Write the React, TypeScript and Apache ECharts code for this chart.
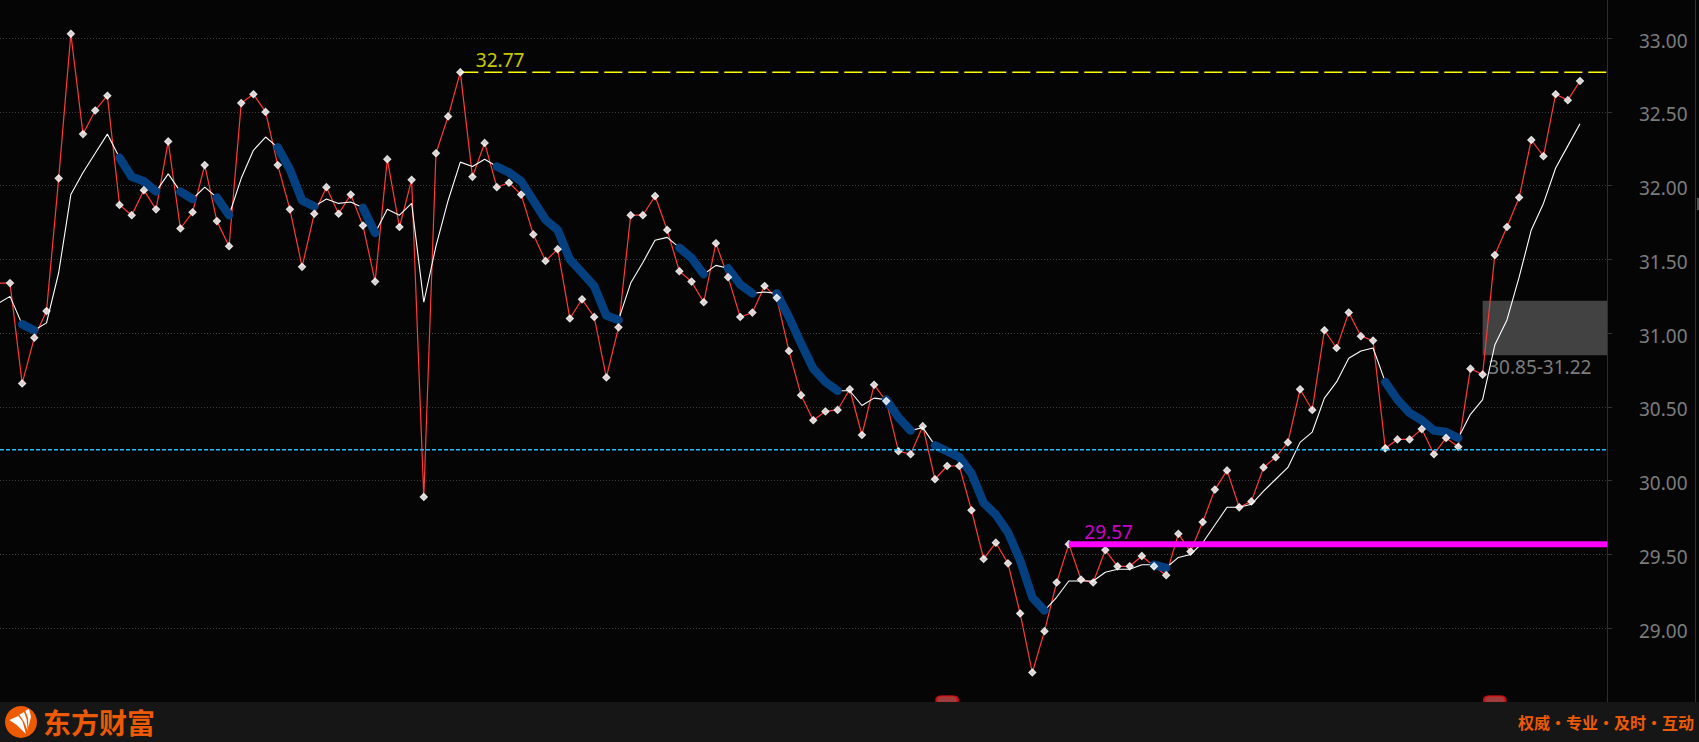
import React, { useEffect, useRef } from "react";
import * as echarts from "echarts";

// Session numbers run from -1 (just off the left edge) to 129
const firstSession = -1;
const closes = [
  31.34, 31.34, 30.66, 30.97, 31.15, 32.05, 33.03, 32.35, 32.51, 32.61, 31.87, 31.8, 31.97, 31.84, 32.3, 31.71, 31.82,
  32.14, 31.76, 31.59, 32.56, 32.62, 32.5, 32.14, 31.84, 31.45, 31.81, 31.99, 31.81, 31.94, 31.73, 31.35, 32.18, 31.72,
  32.04, 29.89, 32.22, 32.47, 32.77, 32.06, 32.29, 31.99, 32.02, 31.94, 31.67, 31.49, 31.57, 31.1, 31.23, 31.11, 30.7,
  31.04, 31.8, 31.8, 31.93, 31.7, 31.42, 31.35, 31.21, 31.61, 31.38, 31.11, 31.14, 31.32, 31.24, 30.88, 30.58, 30.41,
  30.47, 30.48, 30.62, 30.31, 30.65, 30.54, 30.2, 30.18, 30.37, 30.01, 30.1, 30.1, 29.8, 29.47, 29.58, 29.44, 29.1,
  28.7, 28.98, 29.31, 29.57, 29.33, 29.31, 29.53, 29.42, 29.42, 29.49, 29.42, 29.36, 29.64, 29.52, 29.72, 29.94, 30.07,
  29.82, 29.86, 30.09, 30.16, 30.26, 30.62, 30.48, 31.02, 30.9, 31.14, 30.98, 30.95, 30.22, 30.28, 30.28, 30.35, 30.18,
  30.29, 30.23, 30.76, 30.72, 31.53, 31.72, 31.92, 32.31, 32.2, 32.62, 32.58, 32.71,
];
const movingAverage = [
  31.2, 31.25, 31.06, 31.02, 31.07, 31.41, 31.94, 32.09, 32.22, 32.35, 32.19, 32.06, 32.03, 31.96, 32.08, 31.96, 31.91,
  31.99, 31.92, 31.8, 32.05, 32.24, 32.33, 32.26, 32.11, 31.9, 31.86, 31.91, 31.88, 31.89, 31.85, 31.68, 31.84, 31.8,
  31.88, 31.21, 31.59, 31.9, 32.16, 32.13, 32.18, 32.13, 32.09, 32.03, 31.9, 31.77, 31.7, 31.5, 31.41, 31.32, 31.12,
  31.09, 31.34, 31.48, 31.63, 31.65, 31.58, 31.51, 31.4, 31.46, 31.44, 31.33, 31.27, 31.28, 31.27, 31.11, 30.93, 30.76,
  30.67, 30.61, 30.61, 30.51, 30.56, 30.55, 30.43, 30.34, 30.36, 30.24, 30.2, 30.16, 30.05, 29.85, 29.77, 29.65, 29.46,
  29.21, 29.12, 29.21, 29.32, 29.32, 29.32, 29.38, 29.4, 29.4, 29.43, 29.43, 29.41, 29.48, 29.5, 29.58, 29.7, 29.82,
  29.82, 29.84, 29.93, 30.01, 30.09, 30.26, 30.33, 30.56, 30.67, 30.83, 30.88, 30.9, 30.67, 30.55, 30.46, 30.41, 30.34,
  30.33, 30.29, 30.45, 30.55, 30.92, 31.09, 31.38, 31.7, 31.88, 32.12, 32.27, 32.42,
];
// Stretches where the moving average falls (drawn thick and blue)
const fallingRuns = [
  [1, 2], [9, 12], [14, 15], [17, 18], [22, 25], [29, 30], [40, 50], [55, 57], [59, 61], [63, 68], [72, 74], [76, 85],
  [94, 95], [113, 119],
];
const yTicks = [29, 29.5, 30, 30.5, 31, 31.5, 32, 32.5, 33];
const highSession = 37;
const highLevel = 32.77;
const lowSession = 87;
const supportLevel = 29.57;
const referenceLevel = 30.21;
const zoneSession = 121;
const zoneLow = 30.85;
const zoneHigh = 31.22;
const eventSessions = [77, 122];

const xMin = -0.8217;
const xMax = 131.22;
const yMin = 28.5;
const yMax = 33.259;

const points = (values: number[]) => values.map((v, k) => [k + firstSession, v]);
const isFalling = (s: number) => fallingRuns.some(([a, b]) => s >= a && s <= b);

function logoBlade(pts: number[][]) {
  return {
    type: "polygon",
    shape: { points: pts.map(([x, y]) => [x / 3, 680 + y / 3]) },
    style: { fill: "#fff" },
    z: 22,
  };
}

export default function App() {
  const ref = useRef<HTMLDivElement>(null);

  useEffect(() => {
    document.body.style.margin = "0";
    document.body.style.background = "#050505";
    const chart = echarts.init(ref.current!, undefined, { renderer: "svg" });
    const labelFont = { fontFamily: "Noto Sans", fontSize: 19 };
    chart.setOption({
      animation: false,
      backgroundColor: "#050505",
      grid: { left: 0, top: 0, width: 1607, height: 702, containLabel: false },
      xAxis: { type: "value", min: xMin, max: xMax, show: false },
      yAxis: {
        type: "value",
        position: "right",
        min: yMin,
        max: yMax,
        interval: 0.5,
        axisLine: { show: true, onZero: false, lineStyle: { color: "#2e2e2e", width: 1 } },
        axisTick: { show: true, length: 5, customValues: yTicks, lineStyle: { color: "#333" } },
        axisLabel: {
          ...labelFont,
          color: "#7c7c7c",
          margin: 32,
          align: "left",
          verticalAlign: "top",
          lineHeight: 5,
          customValues: yTicks,
          formatter: (v: number) => v.toFixed(2),
        },
        splitLine: { show: true, lineStyle: { color: "#3d3d3d", type: [1, 2], width: 1 } },
      },
      series: [
        {
          name: "区间",
          type: "line",
          data: [],
          z: 1,
          markArea: {
            silent: true,
            itemStyle: { color: "#464646", opacity: 0.95 },
            label: {
              show: true,
              position: "bottom",
              distance: 2,
              offset: [-5, 0],
              formatter: `${zoneLow.toFixed(2)}-${zoneHigh.toFixed(2)}`,
              color: "#7c7c7c",
              ...labelFont,
            },
            data: [[{ coord: [zoneSession, zoneHigh] }, { coord: [xMax, zoneLow] }]],
          },
        },
        {
          name: "收盘",
          type: "line",
          data: points(closes),
          symbol: "none",
          clip: true,
          z: 3,
          lineStyle: { color: "#ff3a3a", width: 1.2 },
        },
        {
          name: "均线",
          type: "line",
          data: points(movingAverage),
          symbol: "none",
          clip: true,
          z: 4,
          lineStyle: { color: "#ffffff", width: 1.1 },
        },
        {
          name: "高点",
          type: "line",
          data: [[highSession, highLevel], [xMax, highLevel]],
          symbol: "none",
          z: 5,
          lineStyle: { color: "#ffff00", width: 1.5, type: [18, 6] },
        },
        {
          name: "下跌均线",
          type: "line",
          data: movingAverage.map((v, k) => {
            const s = k + firstSession;
            return [s, isFalling(s) ? v : null];
          }),
          connectNulls: false,
          symbol: "none",
          z: 6,
          lineStyle: { color: "#04407f", width: 8.5, cap: "round", join: "round" },
        },
        {
          name: "收盘点",
          type: "scatter",
          data: points(closes).slice(1),
          symbol: "diamond",
          symbolSize: 7,
          z: 7,
          silent: true,
          itemStyle: { color: "#ffffff", borderColor: "#ffffff", borderWidth: 1.2 },
        },
        {
          name: "参考线",
          type: "line",
          data: [[xMin, referenceLevel], [xMax, referenceLevel]],
          symbol: "none",
          z: 8,
          lineStyle: { color: "#22c0ff", width: 1.3, type: [4, 2] },
        },
        {
          name: "支撑线",
          type: "line",
          data: [[lowSession, supportLevel], [xMax, supportLevel]],
          symbol: "none",
          z: 9,
          lineStyle: { color: "#ff00ff", width: 6 },
        },
        {
          name: "标注",
          type: "scatter",
          symbolSize: 1,
          z: 10,
          silent: true,
          itemStyle: { color: "transparent" },
          data: [
            {
              value: [highSession, highLevel],
              label: {
                show: true,
                position: [16, -21],
                formatter: highLevel.toFixed(2),
                color: "#ffff00",
                ...labelFont,
              },
            },
            {
              value: [lowSession, supportLevel],
              label: {
                show: true,
                position: [16, -21],
                formatter: supportLevel.toFixed(2),
                color: "#ff00ff",
                ...labelFont,
              },
            },
          ],
        },
        {
          name: "事件",
          type: "scatter",
          symbol: "roundRect",
          symbolSize: [21, 12],
          clip: true,
          z: 2,
          silent: true,
          itemStyle: { color: "#c84a4a", borderColor: "#e00d0d", borderWidth: 2 },
          data: eventSessions.map((s) => [s, yMin]),
        },
      ],
      graphic: [
        {
          type: "line",
          shape: { x1: 1695.5, y1: 0, x2: 1695.5, y2: 702 },
          style: { stroke: "#333", lineWidth: 1 },
          z: 20,
        },
        { type: "rect", shape: { x: 1697, y: 198, width: 2, height: 12 }, style: { fill: "#555" }, z: 20 },
        { type: "rect", shape: { x: 0, y: 702, width: 1699, height: 40 }, style: { fill: "#161616" }, z: 20 },
        { type: "circle", shape: { cx: 21, cy: 722, r: 16 }, style: { fill: "#ee5a00" }, z: 21 },
        logoBlade([[28, 120], [55, 108], [68, 125], [78, 162], [50, 135]]),
        logoBlade([[58, 104], [72, 96], [80, 118], [83, 152], [72, 125]]),
        logoBlade([[76, 92], [87, 87], [93, 110], [85, 142], [84, 115]]),
        {
          type: "text",
          x: 43,
          y: 722,
          z: 21,
          style: {
            text: "东方财富",
            fill: "#ec5a08",
            font: "700 28px 'Noto Sans CJK SC'",
            verticalAlign: "middle",
          },
        },
        {
          type: "text",
          x: 1694,
          y: 722,
          z: 21,
          style: {
            text: "权威·专业·及时·互动",
            fill: "#ec5a08",
            font: "700 16px 'Noto Sans CJK SC'",
            align: "right",
            verticalAlign: "middle",
          },
        },
      ],
    });
    return () => chart.dispose();
  }, []);

  return <div ref={ref} style={{ width: 1699, height: 742 }} />;
}
